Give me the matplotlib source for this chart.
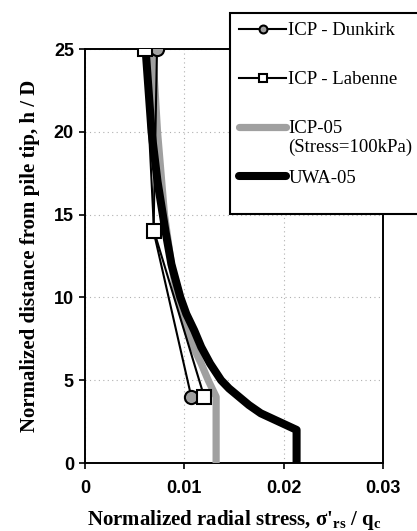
import matplotlib
matplotlib.use("Agg")
import matplotlib.pyplot as plt
import numpy as np
from matplotlib.legend_handler import HandlerLine2D

plt.rcParams['mathtext.fontset'] = 'custom'
plt.rcParams['mathtext.rm'] = 'Liberation Serif:bold'
plt.rcParams['mathtext.bf'] = 'Liberation Serif:bold'
plt.rcParams['mathtext.it'] = 'Liberation Serif:bold'

# Data
dunkirk_h = [25, 14, 4]
dunkirk_x = [0.00725, 0.0069, 0.0107]

labenne_h = [25, 14, 4]
labenne_x = [0.00604, 0.00695, 0.0120]

icp05_h = [0, 4, 4.5, 5, 6, 7, 8, 10, 12, 15, 20, 25]
icp05_x = [0.0132, 0.0132, 0.0128, 0.0124, 0.0117, 0.0109, 0.0103, 0.0093, 0.0087, 0.0080, 0.0073, 0.0068]

uwa_h = [0, 2, 2.5, 3, 3.5, 4, 4.5, 5, 6, 7, 8, 9, 10, 12, 14, 17, 20, 25]
uwa_x = [0.0213, 0.0213, 0.0195, 0.0177, 0.0165, 0.0155, 0.0145, 0.0137, 0.0126, 0.0117, 0.0110,
         0.0102, 0.0096, 0.0087, 0.0081, 0.0073, 0.0067, 0.0061]

x_ticks = [0, 0.01, 0.02, 0.03]
x_ticklabels = ['0', '0.01', '0.02', '0.03']
y_ticks = [0, 5, 10, 15, 20, 25]

legend_labels = ['ICP - Dunkirk', 'ICP - Labenne', 'ICP-05\n(Stress=100kPa)', 'UWA-05']


class TopLineHandler(HandlerLine2D):
    """Legend handle aligned with the first line of a two-line label."""
    def __init__(self, shift, **kw):
        super().__init__(**kw)
        self.shift = shift

    def create_artists(self, legend, orig_handle, xdescent, ydescent, width,
                       height, fontsize, trans):
        arts = super().create_artists(legend, orig_handle, xdescent, ydescent,
                                      width, height, fontsize, trans)
        for a in arts:
            a.set_ydata(np.asarray(a.get_ydata(), dtype=float) + self.shift)
        return arts


fig = plt.figure(figsize=(4.17, 5.31), dpi=100)
ax = fig.add_axes([85/417, 1-463/531, 298/417, 414/531])

l_icp, = ax.plot(icp05_x, icp05_h, color='#a0a0a0', lw=5.2, solid_capstyle='round',
                 solid_joinstyle='round', zorder=3)
l_uwa, = ax.plot(uwa_x, uwa_h, color='black', lw=5.8, solid_capstyle='round',
                 solid_joinstyle='round', zorder=4)
l_dun, = ax.plot(dunkirk_x, dunkirk_h, color='black', lw=1.5, marker='o', markersize=9.5,
                 markerfacecolor='#a0a0a0', markeredgecolor='black', markeredgewidth=1.5,
                 zorder=5)
l_lab, = ax.plot(labenne_x, labenne_h, color='black', lw=1.5, marker='s', markersize=10,
                 markerfacecolor='white', markeredgecolor='black', markeredgewidth=1.5,
                 zorder=6)

ax.set_xlim(0, 0.03)
ax.set_ylim(0, 25)
ax.set_xticks(x_ticks)
ax.set_xticklabels(x_ticklabels)
ax.set_yticks(y_ticks)
ax.grid(True, color='#b0b0b0', linestyle=(0, (1, 3)), linewidth=0.8)
ax.set_axisbelow(True)
for s in ax.spines.values():
    s.set_linewidth(1.4)
ax.tick_params(direction='out', length=4, width=1.2)
ax.tick_params(axis='x', pad=8)
ax.tick_params(axis='y', pad=4)
for lab in ax.get_xticklabels() + ax.get_yticklabels():
    lab.set_fontfamily('Liberation Sans')
    lab.set_fontsize(13)
    lab.set_fontweight('bold')

ax.set_xlabel(r"Normalized radial stress, σ'$_{\mathrm{rs}}$ / q$_{\mathrm{c}}$",
              fontfamily='Liberation Serif', fontweight='bold', fontsize=15, labelpad=8)
ax.set_ylabel("Normalized distance from pile tip, h / D",
              fontfamily='Liberation Serif', fontweight='bold', fontsize=15, labelpad=10)

fs = 13.5
shift = 0.55 * fs * 1.1
handles = [l_dun, l_lab, l_icp, l_uwa]
labels2 = [lab if '\n' in lab else lab + '\n ' for lab in legend_labels]
hmap = {h: TopLineHandler(shift) for h in handles}
leg = ax.legend(handles, labels2, handler_map=hmap,
                loc='upper left', bbox_to_anchor=(230/417, 1-13/531),
                bbox_transform=fig.transFigure, borderaxespad=0, frameon=True, fancybox=False,
                framealpha=1, edgecolor='black', borderpad=0.5, markerscale=0.6,
                handlelength=2.5, handletextpad=0.1, labelspacing=0.73,
                prop={'family': 'Liberation Serif', 'size': fs})
for t in leg.get_texts():
    t.set_linespacing(1.1)
leg.get_frame().set_linewidth(1.5)
leg.set_zorder(10)

fig.savefig('out.png', dpi=100)
